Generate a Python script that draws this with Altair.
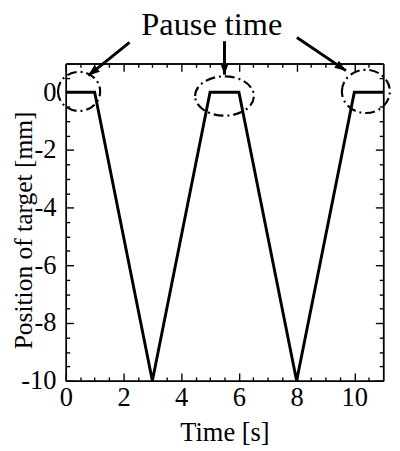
import math
import altair as alt
import pandas as pd

# ---- data ----
time_s = [0, 1, 3, 5, 6, 8, 10, 11]
position_mm = [0, 0, -10, 0, 0, -10, 0, 0]

x_major_ticks = [0, 2, 4, 6, 8, 10]
x_minor_ticks = [0.5, 1, 1.5, 2.5, 3, 3.5, 4.5, 5, 5.5, 6.5, 7, 7.5,
                 8.5, 9, 9.5, 10.5]
y_major_ticks = [-10, -8, -6, -4, -2, 0]
y_minor_ticks = [-9.5, -9, -8.5, -7.5, -7, -6.5, -5.5, -5, -4.5, -3.5, -3, -2.5,
                 -1.5, -1, -0.5, 0.5]

# annotation: pause ellipses (centres in data units)
ellipse_x = [0.46, 5.5, 10.4]
ellipse_y = [0.03, -0.13, 0.03]

# annotation: arrows (tail -> tip, data units)
arrow_x = [2.21, 5.5, 8.01]
arrow_y = [1.73, 1.77, 1.90]
arrow_x2 = [0.78, 5.5, 9.71]
arrow_y2 = [0.58, 0.61, 0.75]

label_text = ["Pause time"]
label_x = [5.06]
label_y = [2.0]

# ---- styles ----
FONT = "Liberation Serif"
ellipse_width_px = [43, 60, 49]
ellipse_ratio = [0.93, 0.67, 0.9]

df_line = pd.DataFrame({"t": time_s, "p": position_mm})
df_arrow = pd.DataFrame({"x": arrow_x, "y": arrow_y, "x2": arrow_x2, "y2": arrow_y2})
df_arrow["ang"] = [
    (math.degrees(math.atan2(x2 - x, y2 - y)) + 360) % 360
    for x, y, x2, y2 in zip(arrow_x, arrow_y, arrow_x2, arrow_y2)
]
df_label = pd.DataFrame({"x": label_x, "y": label_y, "txt": label_text})

xscale = alt.Scale(domain=[0, 11], nice=False, zero=False)
yscale = alt.Scale(domain=[-10, 1], nice=False, zero=False)

lab_expr = "toString(datum.value)"


def tick_axis(orient, values, size, **kw):
    return alt.Axis(
        orient=orient, values=values, tickColor="black", tickWidth=1.4,
        tickSize={"expr": str(-size)}, domainColor="black", domainWidth=1.5,
        grid=False, **kw,
    )


x_bottom = tick_axis(
    "bottom", x_major_ticks, 8,
    labelExpr=lab_expr, labelOverlap=False, labelFlush=False,
    labelFont=FONT, labelFontSize=27, labelColor="black", labelPadding=12,
    title="Time [s]", titleFont=FONT, titleFontSize=27, titleFontWeight="normal",
    titleColor="black", titlePadding=10,
)
y_left = tick_axis(
    "left", y_major_ticks, 8,
    labelExpr=lab_expr, labelOverlap=False, labelFlush=False,
    labelFont=FONT, labelFontSize=27, labelColor="black", labelPadding=18,
    labelBaseline="middle",
    title="Position of target [mm]", titleFont=FONT, titleFontSize=26,
    titleFontWeight="normal", titleColor="black",
    titleX=-43, titleY=170, titleAngle=-90, titleBaseline="middle",
    titleAlign="center",
)

layers = []
layers.append(
    alt.Chart(df_line).mark_line(color="black", strokeWidth=3, clip=True).encode(
        x=alt.X("t:Q", scale=xscale, axis=x_bottom),
        y=alt.Y("p:Q", scale=yscale, axis=y_left),
    )
)
for xa, ya in [
    (tick_axis("top", x_major_ticks, 8, labels=False, title=None),
     tick_axis("right", y_major_ticks, 8, labels=False, title=None)),
    (tick_axis("bottom", x_minor_ticks, 4, labels=False, title=None),
     tick_axis("left", y_minor_ticks, 4, labels=False, title=None)),
    (tick_axis("top", x_minor_ticks, 4, labels=False, title=None),
     tick_axis("right", y_minor_ticks, 4, labels=False, title=None)),
]:
    layers.append(
        alt.Chart(df_line).mark_line(opacity=0).encode(
            x=alt.X("t:Q", scale=xscale, axis=xa),
            y=alt.Y("p:Q", scale=yscale, axis=ya),
        )
    )


def ellipse_path(r):
    k = 0.5523
    kr = round(k * r, 4)
    r = round(r, 4)
    return (f"M-1,0 C-1,{-kr} {-k},{-r} 0,{-r} C{k},{-r} 1,{-kr} 1,0 "
            f"C1,{kr} {k},{r} 0,{r} C{-k},{r} -1,{kr} -1,0 Z")


for i in range(len(ellipse_x)):
    d = pd.DataFrame({"x": [ellipse_x[i]], "y": [ellipse_y[i]]})
    layers.append(
        alt.Chart(d).mark_point(
            shape=ellipse_path(ellipse_ratio[i]), filled=False, stroke="black",
            strokeWidth=2.2, strokeDash=[10, 4, 2, 4], opacity=1,
            size=ellipse_width_px[i] ** 2,
        ).encode(
            x=alt.X("x:Q", scale=xscale, axis=None),
            y=alt.Y("y:Q", scale=yscale, axis=None),
        )
    )

layers.append(
    alt.Chart(df_arrow).mark_rule(color="black", strokeWidth=3).encode(
        x=alt.X("x:Q", scale=xscale, axis=None),
        y=alt.Y("y:Q", scale=yscale, axis=None),
        x2="x2:Q", y2="y2:Q",
    )
)
layers.append(
    alt.Chart(df_arrow).mark_point(
        shape="M0,0 L-0.4,1.05 L0.4,1.05 Z", filled=True, color="black", opacity=1,
        size=484,
    ).encode(
        x=alt.X("x2:Q", scale=xscale, axis=None),
        y=alt.Y("y2:Q", scale=yscale, axis=None),
        angle=alt.Angle("ang:Q", scale=None),
    )
)
layers.append(
    alt.Chart(df_label).mark_text(
        font=FONT, fontSize=33, color="black", align="center", baseline="alphabetic",
    ).encode(
        x=alt.X("x:Q", scale=xscale, axis=None),
        y=alt.Y("y:Q", scale=yscale, axis=None),
        text="txt:N",
    )
)

chart = alt.layer(*layers).resolve_axis(
    x="independent", y="independent"
).properties(
    width=324, height=324,
    autosize=alt.AutoSizeParams(type="none"),
    padding={"left": 59, "top": 52, "right": 9, "bottom": 63},
).configure(
    background="white", font=FONT
).configure_view(stroke=None).configure_axis(labelFont=FONT, titleFont=FONT)

chart.save("out.html", embed_options={"renderer": "svg", "actions": False})
